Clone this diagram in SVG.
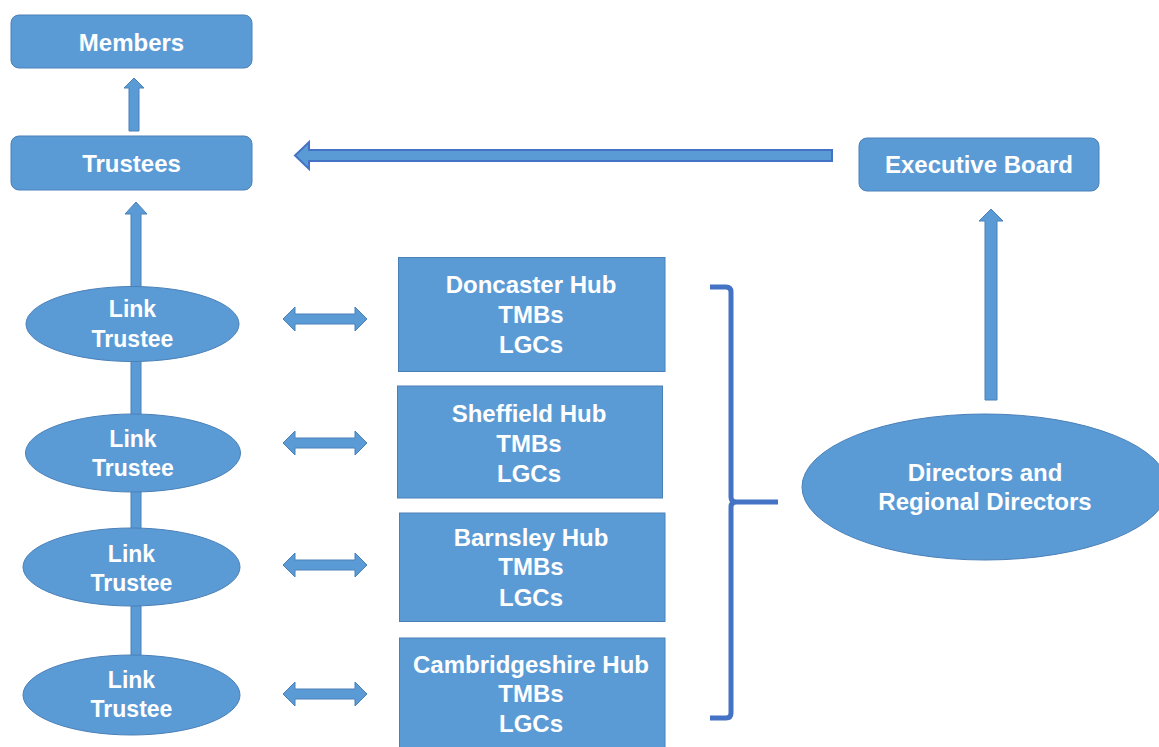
<svg xmlns="http://www.w3.org/2000/svg" width="1159" height="747" viewBox="0 0 1159 747">
<style>
.box{fill:#5b9bd5;stroke:#4a80b8;stroke-width:1}
.arr{fill:#5b9bd5;stroke:#4a80b8;stroke-width:1}
.arr2{fill:#5b9bd5;stroke:#4472c4;stroke-width:2}
.br{fill:none;stroke:#4472c4;stroke-width:5;stroke-linejoin:round}
text{font-family:"Liberation Sans",Arial,sans-serif;font-weight:bold;fill:#ffffff;text-anchor:middle;font-size:24px}
.lt{font-size:23px}
</style>
<rect width="1159" height="747" fill="#ffffff"/>
<g id="connectors">
<polygon class="arr" points="129,131 129,88 124,88 134,78 144,88 139,88 139,131"/>
<polygon class="arr" points="131,660 131,214 125,214 136,202 147,214 141,214 141,660"/>
<polygon class="arr" points="985,400 985,221 979,221 991,209 1003,221 997,221 997,400"/>
<polygon class="arr2" points="832,150 309,150 309,142 295,155.5 309,169 309,161 832,161"/>
<polygon class="arr" points="283,319 295,307 295,314 355,314 355,307 367,319 355,331 355,324 295,324 295,331"/>
<polygon class="arr" points="283,443 295,431 295,438 355,438 355,431 367,443 355,455 355,448 295,448 295,455"/>
<polygon class="arr" points="283,565 295,553 295,560 355,560 355,553 367,565 355,577 355,570 295,570 295,577"/>
<polygon class="arr" points="283,694 295,682 295,689 355,689 355,682 367,694 355,706 355,699 295,699 295,706"/>
<path class="br" d="M710,287 L726,287 Q731,287 731,292 L731,497 Q731,502 736,502 L778,502 M736,502 Q731,502 731,507 L731,713 Q731,718 726,718 L710,718"/>
</g>
<g id="members">
<rect class="box" x="11" y="15" width="241" height="53" rx="8"/>
<text x="131.5" y="50.5">Members</text>
</g>
<g id="trustees">
<rect class="box" x="11" y="136" width="241" height="54" rx="8"/>
<text x="131.5" y="171.5">Trustees</text>
</g>
<g id="executive-board">
<rect class="box" x="859" y="138" width="240" height="53" rx="8"/>
<text x="979" y="172.5">Executive Board</text>
</g>
<g id="link-trustee-1">
<ellipse class="box" cx="132.5" cy="324" rx="106.5" ry="37.5"/>
<text class="lt" x="132.5" y="317">Link</text>
<text class="lt" x="132.5" y="347">Trustee</text>
</g>
<g id="link-trustee-2">
<ellipse class="box" cx="133" cy="453" rx="107.5" ry="39"/>
<text class="lt" x="133" y="446.5">Link</text>
<text class="lt" x="133" y="476">Trustee</text>
</g>
<g id="link-trustee-3">
<ellipse class="box" cx="131.5" cy="567" rx="108.5" ry="39"/>
<text class="lt" x="131.5" y="561.5">Link</text>
<text class="lt" x="131.5" y="590.5">Trustee</text>
</g>
<g id="link-trustee-4">
<ellipse class="box" cx="131.5" cy="695" rx="108.5" ry="40"/>
<text class="lt" x="131.5" y="688">Link</text>
<text class="lt" x="131.5" y="717">Trustee</text>
</g>
<g id="doncaster-hub">
<rect class="box" x="398.5" y="257.5" width="266.5" height="114"/>
<text x="531" y="292.7">Doncaster Hub</text>
<text x="531" y="322.7">TMBs</text>
<text x="531" y="352.7">LGCs</text>
</g>
<g id="sheffield-hub">
<rect class="box" x="397.5" y="386" width="265" height="112"/>
<text x="529" y="421.5">Sheffield Hub</text>
<text x="529" y="451.5">TMBs</text>
<text x="529" y="482">LGCs</text>
</g>
<g id="barnsley-hub">
<rect class="box" x="399.5" y="513" width="265.5" height="108.5"/>
<text x="531" y="545.5">Barnsley Hub</text>
<text x="531" y="575">TMBs</text>
<text x="531" y="605.5">LGCs</text>
</g>
<g id="cambridgeshire-hub">
<rect class="box" x="399.5" y="638" width="265.5" height="120"/>
<text x="531" y="672.5">Cambridgeshire Hub</text>
<text x="531" y="702">TMBs</text>
<text x="531" y="732">LGCs</text>
</g>
<g id="directors">
<ellipse class="box" cx="985" cy="487" rx="183" ry="73"/>
<text x="985" y="480.5">Directors and</text>
<text x="985" y="510">Regional Directors</text>
</g>
</svg>
